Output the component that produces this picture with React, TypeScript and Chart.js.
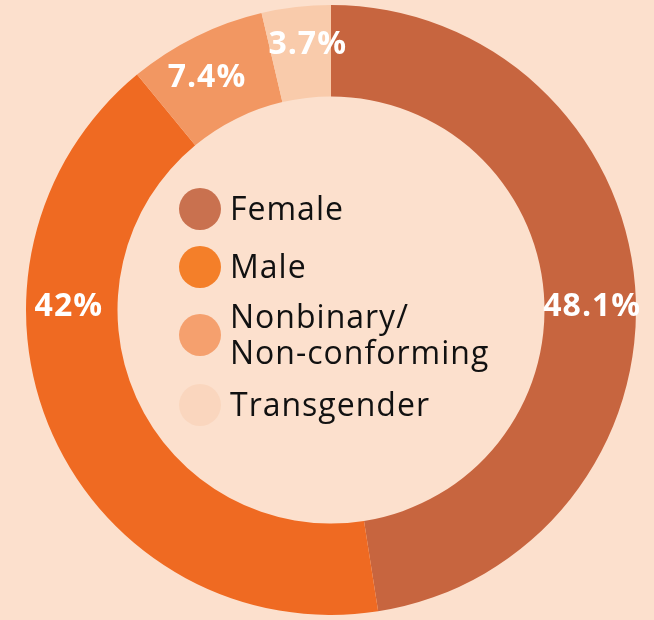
import React, { useEffect, useRef } from "react";
import { Chart, registerables } from "chart.js";

Chart.register(...registerables);

const categories = ["Female", "Male", "Nonbinary/\nNon-conforming", "Transgender"];
const values = [48.1, 42, 7.4, 3.7];
const valueLabels = ["48.1%", "42%", "7.4%", "3.7%"];

const sliceColors = ["#C7653F", "#EF6A22", "#F29762", "#F9CBAB"];
const legendColors = ["#C9714F", "#F47F29", "#F5A06E", "#FAD6BE"];
const BG = "#FCE0CD";
// label placement: degrees clockwise from 12 o'clock, and radial offset from ring middle
const labelAngles = [89, 271, 332, 355];
const labelOffsets = [2, 3, 5, 8];
const legendGaps = [22, 14, 16];

const overlayPlugin = {
  id: "overlay",
  beforeDraw(chart: any) {
    const { ctx, width, height } = chart;
    ctx.save();
    ctx.fillStyle = BG;
    ctx.fillRect(0, 0, width, height);
    ctx.restore();
  },
  afterDraw(chart: any) {
    const { ctx } = chart;
    const meta = chart.getDatasetMeta(0);
    const arc = meta.data[0];
    const cx = arc.x;
    const cy = arc.y;
    const mid = (arc.innerRadius + arc.outerRadius) / 2;

    // value labels
    ctx.save();
    ctx.fillStyle = "#FFFFFF";
    ctx.font = "bold 32px 'Open Sans'";
    (ctx as any).letterSpacing = "1px";
    ctx.textAlign = "center";
    ctx.textBaseline = "middle";
    valueLabels.forEach((t, i) => {
      const a = (labelAngles[i] * Math.PI) / 180;
      const r = mid + labelOffsets[i];
      ctx.fillText(t, cx + r * Math.sin(a), cy - r * Math.cos(a) + 1);
    });
    ctx.restore();

    // legend in the hole
    const labels: string[] = chart.data.labels;
    const lineH = 36;
    const blocks = labels.map((l) => l.split("\n"));
    const total =
      blocks.reduce((s, b) => s + b.length * lineH, 0) +
      legendGaps.reduce((s, g) => s + g, 0);
    let top = cy - 2 - total / 2;
    ctx.save();
    ctx.font = "32px 'Open Sans'";
    (ctx as any).letterSpacing = "1px";
    ctx.textAlign = "left";
    ctx.textBaseline = "middle";
    blocks.forEach((lines, i) => {
      const h = lines.length * lineH;
      const centerY = top + h / 2;
      ctx.beginPath();
      ctx.fillStyle = legendColors[i];
      ctx.arc(cx - 131, centerY - 1, 21, 0, Math.PI * 2);
      ctx.fill();
      ctx.fillStyle = "#111111";
      lines.forEach((ln, j) => {
        ctx.fillText(ln, cx - 101, top + lineH * j + lineH / 2 + 1);
      });
      top += h + (legendGaps[i] || 0);
    });
    ctx.restore();
  },
};

export default function App() {
  const ref = useRef<HTMLCanvasElement>(null);
  useEffect(() => {
    document.body.style.margin = "0";
    document.body.style.background = BG;
    const chart = new Chart(ref.current!, {
      type: "doughnut",
      data: {
        labels: categories,
        datasets: [
          {
            data: values,
            backgroundColor: sliceColors,
            borderWidth: 0,
          },
        ],
      },
      options: {
        animation: false,
        responsive: false,
        cutout: "70%",
        layout: { padding: { top: 5, bottom: 5, left: 26, right: 18 } },
        plugins: {
          legend: { display: false },
          tooltip: { enabled: false },
        },
      },
      plugins: [overlayPlugin],
    });
    return () => chart.destroy();
  }, []);
  return (
    <div style={{ width: 654, height: 620, background: BG }}>
      <canvas ref={ref} width={654} height={620} style={{ display: "block" }} />
    </div>
  );
}
